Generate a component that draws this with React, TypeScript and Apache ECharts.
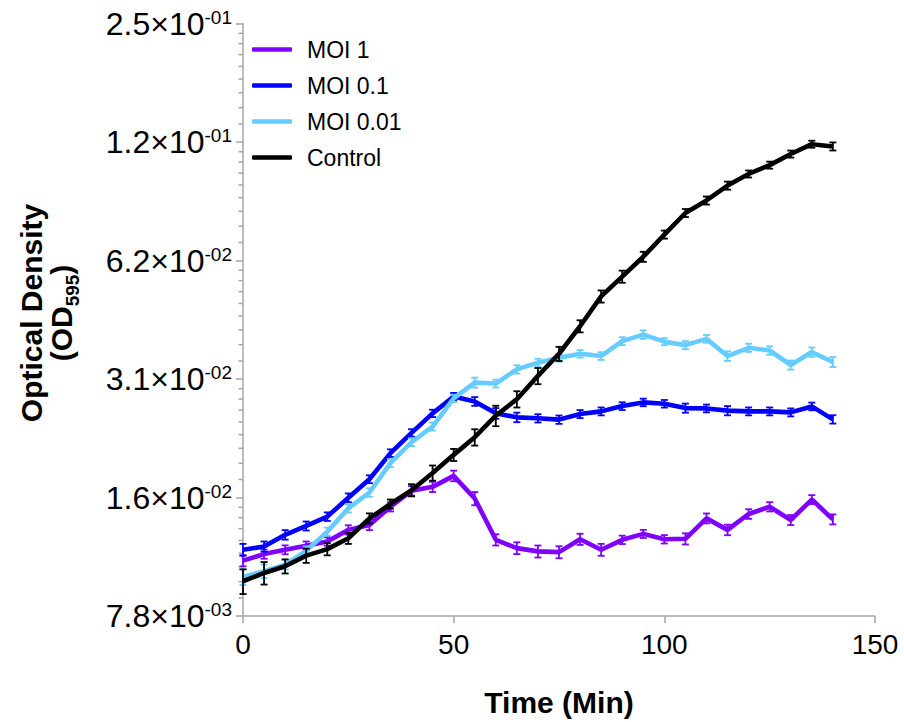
import React, { useEffect, useRef } from "react";
import * as echarts from "echarts";

const TIME = [0, 5, 10, 15, 20, 25, 30, 35, 40, 45, 50, 55, 60, 65, 70, 75, 80, 85, 90, 95, 100, 105, 110, 115, 120, 125, 130, 135, 140];

const MOI1 = [0.0108, 0.01122, 0.01151, 0.01178, 0.01208, 0.01293, 0.01331, 0.0148, 0.01625, 0.01663, 0.01773, 0.01553, 0.0122, 0.01162, 0.0114, 0.01135, 0.01224, 0.01151, 0.0122, 0.01263, 0.01224, 0.01227, 0.01383, 0.01293, 0.01419, 0.0148, 0.0137, 0.01544, 0.01375];
const MOI1_ERR = [0.00035, 0.0003, 0.0003, 0.0003, 0.0003, 0.00035, 0.0004, 0.0004, 0.00045, 0.0005, 0.00055, 0.0006, 0.0004, 0.0004, 0.0004, 0.0004, 0.0004, 0.0004, 0.0003, 0.0003, 0.0003, 0.0004, 0.0004, 0.0004, 0.0004, 0.0004, 0.0004, 0.0004, 0.0004];

const MOI01 = [0.01151, 0.01173, 0.01256, 0.01323, 0.01397, 0.0156, 0.01739, 0.02026, 0.0228, 0.02556, 0.02821, 0.02741, 0.02556, 0.02497, 0.02483, 0.02464, 0.02546, 0.02586, 0.02667, 0.02725, 0.02704, 0.02636, 0.02631, 0.02597, 0.02586, 0.02586, 0.02571, 0.02662, 0.02468];
const MOI01_ERR = [0.0004, 0.00035, 0.00035, 0.00035, 0.00035, 0.0004, 0.0004, 0.00045, 0.0005, 0.00055, 0.0006, 0.0007, 0.0008, 0.0007, 0.0006, 0.0006, 0.0006, 0.0006, 0.0006, 0.0006, 0.0006, 0.0007, 0.0006, 0.0007, 0.0006, 0.0006, 0.0006, 0.0006, 0.0006];

const MOI001 = [0.009816, 0.01015, 0.01055, 0.01144, 0.0128, 0.01466, 0.01609, 0.01911, 0.0216, 0.02366, 0.02789, 0.0306, 0.03043, 0.03306, 0.03438, 0.03539, 0.03622, 0.03574, 0.039, 0.04052, 0.03888, 0.0381, 0.03952, 0.03574, 0.03751, 0.03692, 0.03392, 0.03658, 0.03452];
const MOI001_ERR = [0.00045, 0.0004, 0.0003, 0.0003, 0.0003, 0.00035, 0.0004, 0.00045, 0.0005, 0.00055, 0.0006, 0.0009, 0.0007, 0.0008, 0.0008, 0.0008, 0.0008, 0.0008, 0.0009, 0.001, 0.0008, 0.0009, 0.0009, 0.001, 0.0009, 0.0009, 0.0009, 0.001, 0.001];

const CONTROL = [0.009574, 0.01005, 0.01045, 0.01112, 0.01155, 0.01231, 0.01383, 0.01504, 0.01631, 0.01804, 0.02005, 0.02223, 0.02522, 0.02777, 0.03182, 0.03622, 0.04255, 0.05066, 0.05689, 0.06389, 0.07274, 0.08252, 0.08878, 0.09687, 0.1037, 0.1092, 0.1165, 0.1234, 0.1218];
const CONTROL_ERR = [0.00069, 0.00066, 0.00043, 0.00046, 0.00041, 0.0004, 0.00041, 0.0004, 0.00058, 0.0008, 0.00071, 0.00106, 0.00151, 0.00132, 0.00151, 0.0015, 0.00151, 0.0018, 0.00202, 0.00188, 0.00171, 0.00194, 0.00209, 0.00228, 0.00213, 0.00224, 0.00239, 0.00253, 0.00286];

const SERIES_NAMES = ["MOI 1", "MOI 0.1", "MOI 0.01", "Control"];
const SERIES_COLORS = ["#8000ff", "#0000ff", "#66ccff", "#000000"];

const Y_MIN = 0.0078125;
const Y_MAX = 0.25;
const Y_MANT = ["7.8", "1.6", "3.1", "6.2", "1.2", "2.5"];
const Y_EXP = ["-03", "-02", "-02", "-02", "-01", "-01"];
const Y_MINOR_PER_INTERVAL = 8;

const X_MIN = 0;
const X_MAX = 150;
const X_INTERVAL = 50;

const AXIS_COLOR = "#a6a6a6";
const FONT = "'Liberation Sans', Arial, sans-serif";

export default function App() {
  const ref = useRef<HTMLDivElement>(null);

  useEffect(() => {
    document.body.style.margin = "0";
    if (!ref.current) return;
    const chart = echarts.init(ref.current, null, { renderer: "svg" });

    const values = [MOI1, MOI01, MOI001, CONTROL];
    const errs = [MOI1_ERR, MOI01_ERR, MOI001_ERR, CONTROL_ERR];

    const minorVals: number[][] = [];
    for (let k = 0; k < Y_MANT.length - 1; k++) {
      const base = Y_MIN * Math.pow(2, k);
      for (let i = 1; i <= Y_MINOR_PER_INTERVAL; i++) {
        minorVals.push([X_MIN, base * (1 + i / (Y_MINOR_PER_INTERVAL + 1))]);
      }
    }

    const series: any[] = [];
    series.push({
      type: "custom",
      coordinateSystem: "cartesian2d",
      data: minorVals,
      encode: { x: 0, y: 1 },
      clip: false,
      silent: true,
      z: 1,
      renderItem: (params: any, api: any) => {
        const p = api.coord([api.value(0), api.value(1)]);
        return {
          type: "line",
          shape: { x1: p[0] - 4.5, y1: p[1], x2: p[0], y2: p[1] },
          style: { stroke: AXIS_COLOR, lineWidth: 1.5 },
        };
      },
    });

    values.forEach((vals, si) => {
      const color = SERIES_COLORS[si];
      series.push({
        type: "custom",
        name: "err" + si,
        coordinateSystem: "cartesian2d",
        data: TIME.map((t, i) => [t, vals[i], errs[si][i]]),
        encode: { x: 0, y: 1 },
        clip: false,
        silent: true,
        z: 2 + si * 2,
        renderItem: (params: any, api: any) => {
          const x = api.value(0);
          const v = api.value(1);
          const e = api.value(2);
          const top = api.coord([x, v + e]);
          const bot = api.coord([x, v - e]);
          const hw = 3.5;
          const st = { stroke: color, lineWidth: 1.8 };
          return {
            type: "group",
            children: [
              { type: "line", shape: { x1: top[0], y1: top[1], x2: bot[0], y2: bot[1] }, style: st },
              { type: "line", shape: { x1: top[0] - hw, y1: top[1], x2: top[0] + hw, y2: top[1] }, style: st },
              { type: "line", shape: { x1: bot[0] - hw, y1: bot[1], x2: bot[0] + hw, y2: bot[1] }, style: st },
            ],
          };
        },
      });
      series.push({
        type: "line",
        name: SERIES_NAMES[si],
        data: TIME.map((t, i) => [t, vals[i]]),
        symbol: "none",
        showSymbol: false,
        color,
        lineStyle: { color, width: 4.6 },
        z: 3 + si * 2,
      });
    });

    const option: any = {
      animation: false,
      backgroundColor: "#ffffff",
      textStyle: { fontFamily: FONT },
      grid: { left: 243, right: 29, top: 23.5, bottom: 102, containLabel: false },
      legend: {
        data: SERIES_NAMES,
        orient: "vertical",
        left: 247,
        top: 33,
        icon: "roundRect",
        itemWidth: 40,
        itemHeight: 4.5,
        itemGap: 13,
        textStyle: { fontFamily: FONT, fontSize: 23, lineHeight: 22, color: "#000", padding: [0, 0, 0, 10] },
      },
      xAxis: {
        type: "value",
        min: X_MIN,
        max: X_MAX,
        interval: X_INTERVAL,
        name: "Time (Min)",
        nameLocation: "middle",
        nameGap: 71,
        nameTextStyle: { fontFamily: FONT, fontSize: 30, fontWeight: "bold", color: "#000" },
        axisLine: { show: true, lineStyle: { color: AXIS_COLOR, width: 1.5 } },
        axisTick: { show: true, inside: false, length: 7, lineStyle: { color: AXIS_COLOR, width: 1.5 } },
        axisLabel: { fontFamily: FONT, fontSize: 28, color: "#000", margin: 14 },
        splitLine: { show: false },
      },
      yAxis: {
        type: "log",
        logBase: 2,
        min: Y_MIN,
        max: Y_MAX,
        axisLine: { show: true, lineStyle: { color: AXIS_COLOR, width: 1.5 } },
        axisTick: { show: true, inside: false, length: 7, lineStyle: { color: AXIS_COLOR, width: 1.5 } },
        splitLine: { show: false },
        minorTick: { show: false },
        axisLabel: {
          margin: 11,
          formatter: (value: number) => {
            const i = Math.round(Math.log2(value / Y_MIN));
            return `{m|${Y_MANT[i]}×10}{e|${Y_EXP[i]}}`;
          },
          rich: {
            m: { fontFamily: FONT, fontSize: 32, lineHeight: 32, color: "#000", verticalAlign: "bottom" },
            e: { fontFamily: FONT, fontSize: 19, lineHeight: 19, color: "#000", verticalAlign: "top" },
          },
        },
      },
      graphic: [
        {
          type: "text",
          x: 46,
          y: 313,
          rotation: Math.PI / 2,
          style: {
            text: "{t|Optical Density}\n{t|(OD}{s|595}{t|)}",
            align: "center",
            verticalAlign: "middle",
            rich: {
              t: { fontFamily: FONT, fontSize: 30, fontWeight: "bold", lineHeight: 30, fill: "#000", color: "#000", verticalAlign: "bottom" },
              s: { fontFamily: FONT, fontSize: 19, fontWeight: "bold", lineHeight: 24, fill: "#000", color: "#000", verticalAlign: "bottom", padding: [0, 0, -6, 0] },
            },
          },
        },
      ],
      series,
    };

    chart.setOption(option);
    return () => chart.dispose();
  }, []);

  return <div ref={ref} style={{ width: 904, height: 722 }} />;
}
